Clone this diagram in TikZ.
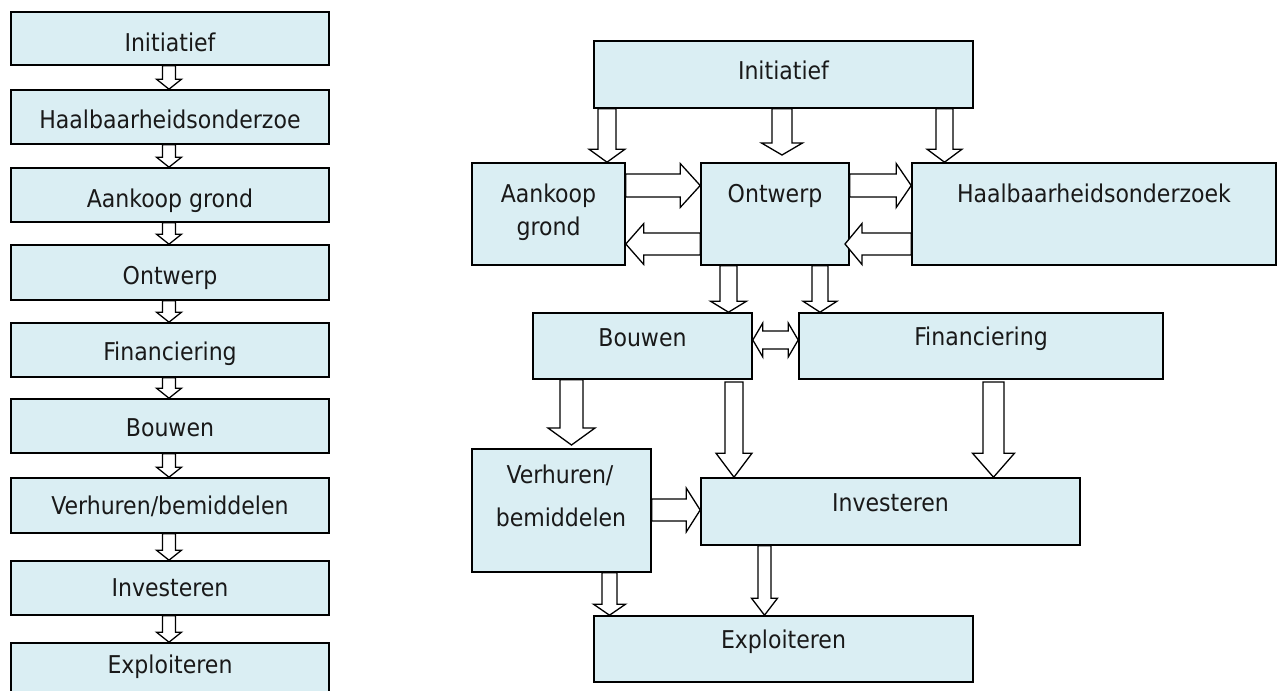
\documentclass[tikz,border=0pt]{standalone}
\usepackage{fontspec}
\setmainfont{DejaVu Sans Condensed}
\usetikzlibrary{calc}
\definecolor{boxfill}{HTML}{DAEEF3}
\tikzset{
  box/.style={draw=black, line width=1.6pt, fill=boxfill, inner sep=0pt, rectangle},
  lbl/.style={font=\fontsize{24.5}{29}\selectfont, inner sep=0pt, anchor=base, text=black!90},
  blockarrow/.style={draw=black, line width=1.3pt, fill=white, line join=miter},
}
% box: name, left, top, right, bottom (y grows downwards)
\newcommand\bx[5]{\node[box, minimum width={#4-#2}, minimum height={#5-#3}] (#1) at ({(#2+#4)/2},{(#3+#5)/2}) {};}
% hollow block arrow: start, end, shaft half width, head half width, head length
\newcommand\barrow[5]{%
  \coordinate (ba-s) at (#1);
  \coordinate (ba-e) at (#2);
  \coordinate (ba-c) at ($(ba-e)!#5pt!(ba-s)$);
  \draw[blockarrow] ($(ba-s)!#3pt!90:(ba-e)$) -- ($(ba-c)!#3pt!90:(ba-e)$) -- ($(ba-c)!#4pt!90:(ba-e)$)
    -- (ba-e) -- ($(ba-c)!#4pt!-90:(ba-e)$) -- ($(ba-c)!#3pt!-90:(ba-e)$) -- ($(ba-s)!#3pt!-90:(ba-e)$) -- cycle;}
% hollow double-headed block arrow: start, end, shaft half width, head half width, head length
\newcommand\dbarrow[5]{%
  \coordinate (da-s) at (#1);
  \coordinate (da-e) at (#2);
  \coordinate (da-c1) at ($(da-s)!#5pt!(da-e)$);
  \coordinate (da-c2) at ($(da-e)!#5pt!(da-s)$);
  \draw[blockarrow] (da-s) -- ($(da-c1)!#4pt!90:(da-e)$) -- ($(da-c1)!#3pt!90:(da-e)$)
    -- ($(da-c2)!#3pt!-90:(da-s)$) -- ($(da-c2)!#4pt!-90:(da-s)$) -- (da-e)
    -- ($(da-c2)!#4pt!90:(da-s)$) -- ($(da-c2)!#3pt!90:(da-s)$)
    -- ($(da-c1)!#3pt!-90:(da-e)$) -- ($(da-c1)!#4pt!-90:(da-e)$) -- cycle;}
\begin{document}
\begin{tikzpicture}[x=1pt, y=-1pt]
\useasboundingbox (0,0) rectangle (1278,691);
\clip (0,0) rectangle (1278,691);

% ---- linear sequence (left) ----
\bx{l1}{11}{12}{329}{65}
\bx{l2}{11}{90}{329}{144}
\bx{l3}{11}{168}{329}{222}
\bx{l4}{11}{245}{329}{300}
\bx{l5}{11}{323}{329}{377}
\bx{l6}{11}{399}{329}{453}
\bx{l7}{11}{478}{329}{533}
\bx{l8}{11}{561}{329}{615}
\bx{l9}{11}{643}{329}{698}

\node[lbl] (t1) at (170,51) {Initiatief};
\node[lbl] (t2) at (170,128) {Haalbaarheidsonderzoe};
\node[lbl] (t3) at (170,207) {Aankoop grond};
\node[lbl] (t4) at (170,284) {Ontwerp};
\node[lbl] (t5) at (170,360) {Financiering};
\node[lbl] (t6) at (170,436) {Bouwen};
\node[lbl] (t7) at (170,514) {Verhuren/bemiddelen};
\node[lbl] (t8) at (170,596) {Investeren};
\node[lbl] (t9) at (170,673) {Exploiteren};

\foreach \a/\b in {l1/l2,l2/l3,l3/l4,l4/l5,l5/l6,l6/l7,l7/l8,l8/l9}{%
  \barrow{169,0 |- \a.south}{169,0 |- \b.north}{6.5}{12.5}{10}}

% ---- network (right) ----
\bx{init}{594}{41}{973}{108}
\bx{aank}{472}{163}{625}{265}
\bx{ontw}{701}{163}{849}{265}
\bx{haal}{912}{163}{1276}{265}
\bx{bouw}{533}{313}{752}{379}
\bx{fin}{799}{313}{1163}{379}
\bx{verh}{472}{449}{651}{572}
\bx{inv}{701}{478}{1080}{545}
\bx{expl}{594}{616}{973}{682}

\node[lbl] (tinit) at (783.5,79) {Initiatief};
\node[lbl] (taank1) at (548.5,202) {Aankoop};
\node[lbl] (taank2) at (548.5,235) {grond};
\node[lbl] (tontw) at (775,202) {Ontwerp};
\node[lbl] (thaal) at (1094,202) {Haalbaarheidsonderzoek};
\node[lbl] (tbouw) at (642.5,346) {Bouwen};
\node[lbl] (tfin) at (981,345) {Financiering};
\node[lbl] (tverh1) at (560,483) {Verhuren/};
\node[lbl] (tverh2) at (561,526) {bemiddelen};
\node[lbl] (tinv) at (890.5,511) {Investeren};
\node[lbl] (texpl) at (783.5,648) {Exploiteren};

\coordinate (ontwgap) at (782,155);
\coordinate (ontwin) at (845,244);

\barrow{607,0 |- init.south}{607,0 |- aank.north}{9}{18}{13}
\barrow{782,0 |- init.south}{ontwgap}{10}{20.5}{12}
\barrow{944.5,0 |- init.south}{944.5,0 |- haal.north}{8.5}{17.5}{13}

\barrow{aank.east |- 0,185.5}{ontw.west |- 0,185.5}{11.5}{22}{20}
\barrow{ontw.west |- 0,244}{aank.east |- 0,244}{11}{20.5}{18}
\barrow{ontw.east |- 0,185.5}{haal.west |- 0,185.5}{11.5}{22}{15}
\barrow{haal.west |- 0,244}{ontwin}{11}{20.5}{17}

\barrow{728.5,0 |- ontw.south}{728.5,0 |- bouw.north}{8.5}{18}{11}
\barrow{820,0 |- ontw.south}{820,0 |- fin.north}{8}{17}{11}
\dbarrow{bouw.east |- 0,340}{fin.west |- 0,340}{9}{17}{10}

\barrow{571.5,0 |- bouw.south}{571.5,445}{11.5}{23.5}{17}
\barrow{734,382}{734,0 |- inv.north}{9}{18}{24}
\barrow{993.5,382}{993.5,0 |- inv.north}{10.5}{21}{24}
\barrow{verh.east |- 0,510}{inv.west |- 0,510}{11}{22}{14}
\barrow{609.5,0 |- verh.south}{609.5,0 |- expl.north}{7.5}{16}{11}
\barrow{764.5,0 |- inv.south}{764.5,0 |- expl.north}{6.5}{13}{17}
\end{tikzpicture}
\end{document}
